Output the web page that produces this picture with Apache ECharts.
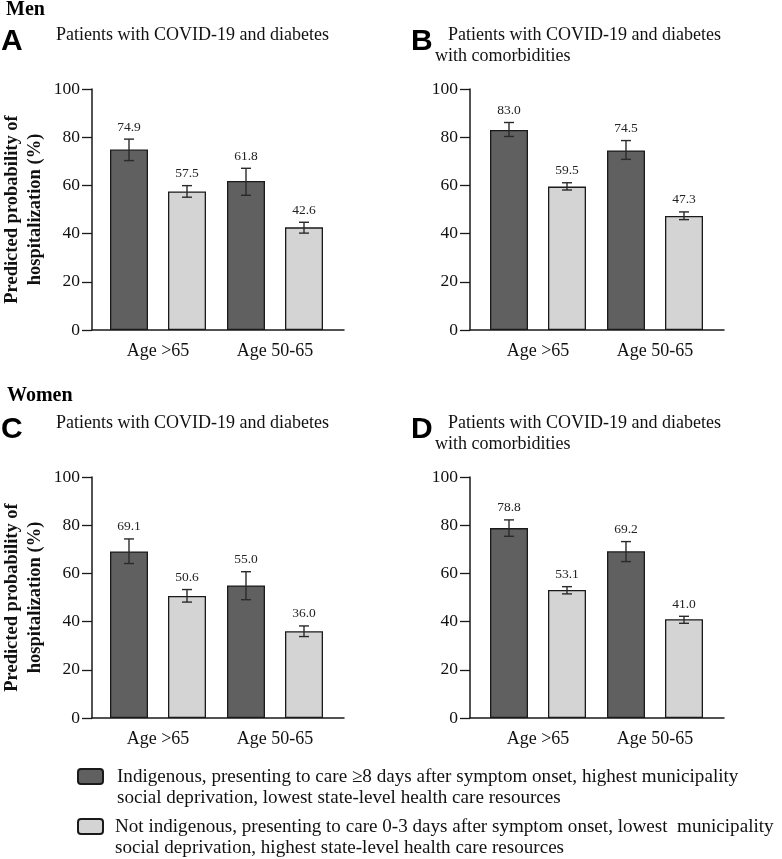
<!DOCTYPE html>
<html>
<head>
<meta charset="utf-8">
<script src="https://cdn.jsdelivr.net/npm/echarts@6/dist/echarts.min.js"></script>
<style>
  html, body { margin: 0; background: #fff; }
  #chart { width: 782px; height: 859px; }
</style>
</head>
<body>
<div id="chart"></div>
<script>
const categories = ['Age >65', 'Age 50-65'];
const yMin = 0;
const yMax = 100;
const yInterval = 20;

// A: men, COVID-19 + diabetes
const aDark = [74.9, 61.8];
const aDarkLow = [70.3, 55.9];
const aDarkHigh = [79.2, 67.1];
const aLight = [57.5, 42.6];
const aLightLow = [55.1, 40.2];
const aLightHigh = [59.9, 44.7];

// B: men, COVID-19 + diabetes with comorbidities
const bDark = [83.0, 74.5];
const bDarkLow = [80.3, 70.8];
const bDarkHigh = [86.1, 78.6];
const bLight = [59.5, 47.3];
const bLightLow = [58.1, 45.8];
const bLightHigh = [61.1, 49.0];

// C: women, COVID-19 + diabetes
const cDark = [69.1, 55.0];
const cDarkLow = [64.1, 49.1];
const cDarkHigh = [74.3, 60.7];
const cLight = [50.6, 36.0];
const cLightLow = [48.1, 33.8];
const cLightHigh = [53.3, 38.2];

// D: women, COVID-19 + diabetes with comorbidities
const dDark = [78.8, 69.2];
const dDarkLow = [75.4, 64.9];
const dDarkHigh = [82.2, 73.2];
const dLight = [53.1, 41.0];
const dLightLow = [51.5, 39.3];
const dLightHigh = [54.5, 42.2];

const legendLabels = [
	'Indigenous, presenting to care \u22658 days after symptom onset, highest municipality\nsocial deprivation, lowest state-level health care resources',
	'Not indigenous, presenting to care 0-3 days after symptom onset, lowest  municipality\nsocial deprivation, highest state-level health care resources',
];

const SERIF = '"Liberation Serif", "Times New Roman", serif';
const SANS = '"Liberation Sans", Arial, sans-serif';
const DARK = '#606060';
const LIGHT = '#d4d4d4';
const INK = '#1a1a1a';
const BAR_W = 38;
const BAR_GAP = 20;

const panels = [
	{ letter: 'A', title: ['Patients with COVID-19 and diabetes'], left: 90, top: 89, yName: true,
		dark: aDark, darkLow: aDarkLow, darkHigh: aDarkHigh, light: aLight, lightLow: aLightLow, lightHigh: aLightHigh },
	{ letter: 'B', title: ['Patients with COVID-19 and diabetes', 'with comorbidities'], left: 470, top: 89, yName: false,
		dark: bDark, darkLow: bDarkLow, darkHigh: bDarkHigh, light: bLight, lightLow: bLightLow, lightHigh: bLightHigh },
	{ letter: 'C', title: ['Patients with COVID-19 and diabetes'], left: 90, top: 477, yName: true,
		dark: cDark, darkLow: cDarkLow, darkHigh: cDarkHigh, light: cLight, lightLow: cLightLow, lightHigh: cLightHigh },
	{ letter: 'D', title: ['Patients with COVID-19 and diabetes', 'with comorbidities'], left: 470, top: 477, yName: false,
		dark: dDark, darkLow: dDarkLow, darkHigh: dDarkHigh, light: dLight, lightLow: dLightLow, lightHigh: dLightHigh },
];

function errorBars(offset) {
	return function (params, api) {
		const i = api.value(0);
		const mid = api.coord([i, api.value(1)]);
		const lo = api.coord([i, api.value(2)]);
		const hi = api.coord([i, api.value(3)]);
		const x = mid[0] + offset;
		const cap = 5;
		const stroke = { stroke: '#2a2a2a', lineWidth: 1.4 };
		return {
			type: 'group',
			children: [
				{ type: 'line', shape: { x1: x, y1: lo[1], x2: x, y2: hi[1] }, style: stroke },
				{ type: 'line', shape: { x1: x - cap, y1: lo[1], x2: x + cap, y2: lo[1] }, style: stroke },
				{ type: 'line', shape: { x1: x - cap, y1: hi[1], x2: x + cap, y2: hi[1] }, style: stroke },
				{
					type: 'text',
					x: x,
					y: hi[1] - 5,
					style: {
						text: api.value(1).toFixed(1),
						font: '13.5px ' + SERIF,
						fill: '#222',
						align: 'center',
						verticalAlign: 'bottom',
					},
				},
			],
		};
	};
}

const grid = [];
const xAxis = [];
const yAxis = [];
const series = [];
const graphic = [];

panels.forEach((p, k) => {
	const frame = k * 2;
	const inner = k * 2 + 1;

	// frame grid: axis lines and y ticks
	grid.push({ left: p.left, top: p.top, width: 254, height: 241 });
	xAxis.push({
		gridIndex: frame,
		type: 'category',
		data: categories,
		axisLine: { lineStyle: { color: INK, width: 1.5 } },
		axisTick: { show: false },
		axisLabel: { show: false },
	});
	yAxis.push({
		gridIndex: frame,
		type: 'value',
		min: yMin,
		max: yMax,
		interval: yInterval,
		name: p.yName ? 'Predicted probability of\nhospitalization (%)' : '',
		nameLocation: 'middle',
		nameGap: 45,
		nameTextStyle: { fontFamily: SERIF, fontWeight: 'bold', fontSize: 18.5, color: '#111', lineHeight: 23 },
		axisLine: { show: true, lineStyle: { color: INK, width: 1.5 } },
		axisTick: { show: true, length: 10, lineStyle: { color: INK, width: 1.3 } },
		axisLabel: { fontFamily: SERIF, fontSize: 17.5, color: '#111', margin: 12 },
		splitLine: { show: false },
	});

	// inner grid: bars
	grid.push({ left: p.left + 9.5, top: p.top, width: 234, height: 241 });
	xAxis.push({
		gridIndex: inner,
		type: 'category',
		data: categories,
		axisLine: { show: false },
		axisTick: { show: false },
		axisLabel: { fontFamily: SERIF, fontSize: 18, color: '#111', margin: 12 },
	});
	yAxis.push({ gridIndex: inner, type: 'value', min: yMin, max: yMax, show: false });

	const barStyle = (color) => ({ color: color, borderColor: INK, borderWidth: 1.3 });
	series.push(
		{ type: 'bar', name: 'dark', xAxisIndex: inner, yAxisIndex: inner, data: p.dark,
			barWidth: BAR_W, barGap: (BAR_GAP / BAR_W * 100) + '%', itemStyle: barStyle(DARK), silent: true },
		{ type: 'bar', name: 'light', xAxisIndex: inner, yAxisIndex: inner, data: p.light,
			barWidth: BAR_W, barGap: (BAR_GAP / BAR_W * 100) + '%', itemStyle: barStyle(LIGHT), silent: true },
		{ type: 'custom', xAxisIndex: inner, yAxisIndex: inner, z: 5, clip: false,
			renderItem: errorBars(-(BAR_W + BAR_GAP) / 2),
			data: p.dark.map((v, i) => [i, v, p.darkLow[i], p.darkHigh[i]]) },
		{ type: 'custom', xAxisIndex: inner, yAxisIndex: inner, z: 5, clip: false,
			renderItem: errorBars((BAR_W + BAR_GAP) / 2),
			data: p.light.map((v, i) => [i, v, p.lightLow[i], p.lightHigh[i]]) }
	);

	// panel letter and heading
	const base = p.top - 89;
	graphic.push({
		type: 'text', left: p.left - 90 + (p.yName ? 1 : 31), top: base + 27,
		style: { text: p.letter, font: 'bold 30px ' + SANS, fill: '#000' },
	});
	graphic.push({
		type: 'text', left: p.yName ? 56 : 448, top: base + 26,
		style: { text: p.title[0], font: '18px ' + SERIF, fill: '#111' },
	});
	if (p.title[1]) {
		graphic.push({
			type: 'text', left: 435, top: base + 47,
			style: { text: p.title[1], font: '18px ' + SERIF, fill: '#111' },
		});
	}
});

graphic.push(
	{ type: 'text', left: 6, top: 0, style: { text: 'Men', font: 'bold 20px ' + SERIF, fill: '#000' } },
	{ type: 'text', left: 7, top: 386, style: { text: 'Women', font: 'bold 20px ' + SERIF, fill: '#000' } }
);

[DARK, LIGHT].forEach((color, i) => {
	const y = 768 + i * 50;
	graphic.push({
		type: 'rect', left: 77, top: y, shape: { width: 25, height: 15, r: 3 },
		style: { fill: color, stroke: INK, lineWidth: 2 },
	});
	graphic.push({
		type: 'text', left: i === 0 ? 117 : 115, top: y - 2,
		style: { text: legendLabels[i], font: '19.1px ' + SERIF, fill: '#111', lineHeight: 21 },
	});
});

const chart = echarts.init(document.getElementById('chart'));
chart.setOption({
	animation: false,
	grid: grid,
	xAxis: xAxis,
	yAxis: yAxis,
	series: series,
	graphic: graphic,
});
</script>
</body>
</html>
